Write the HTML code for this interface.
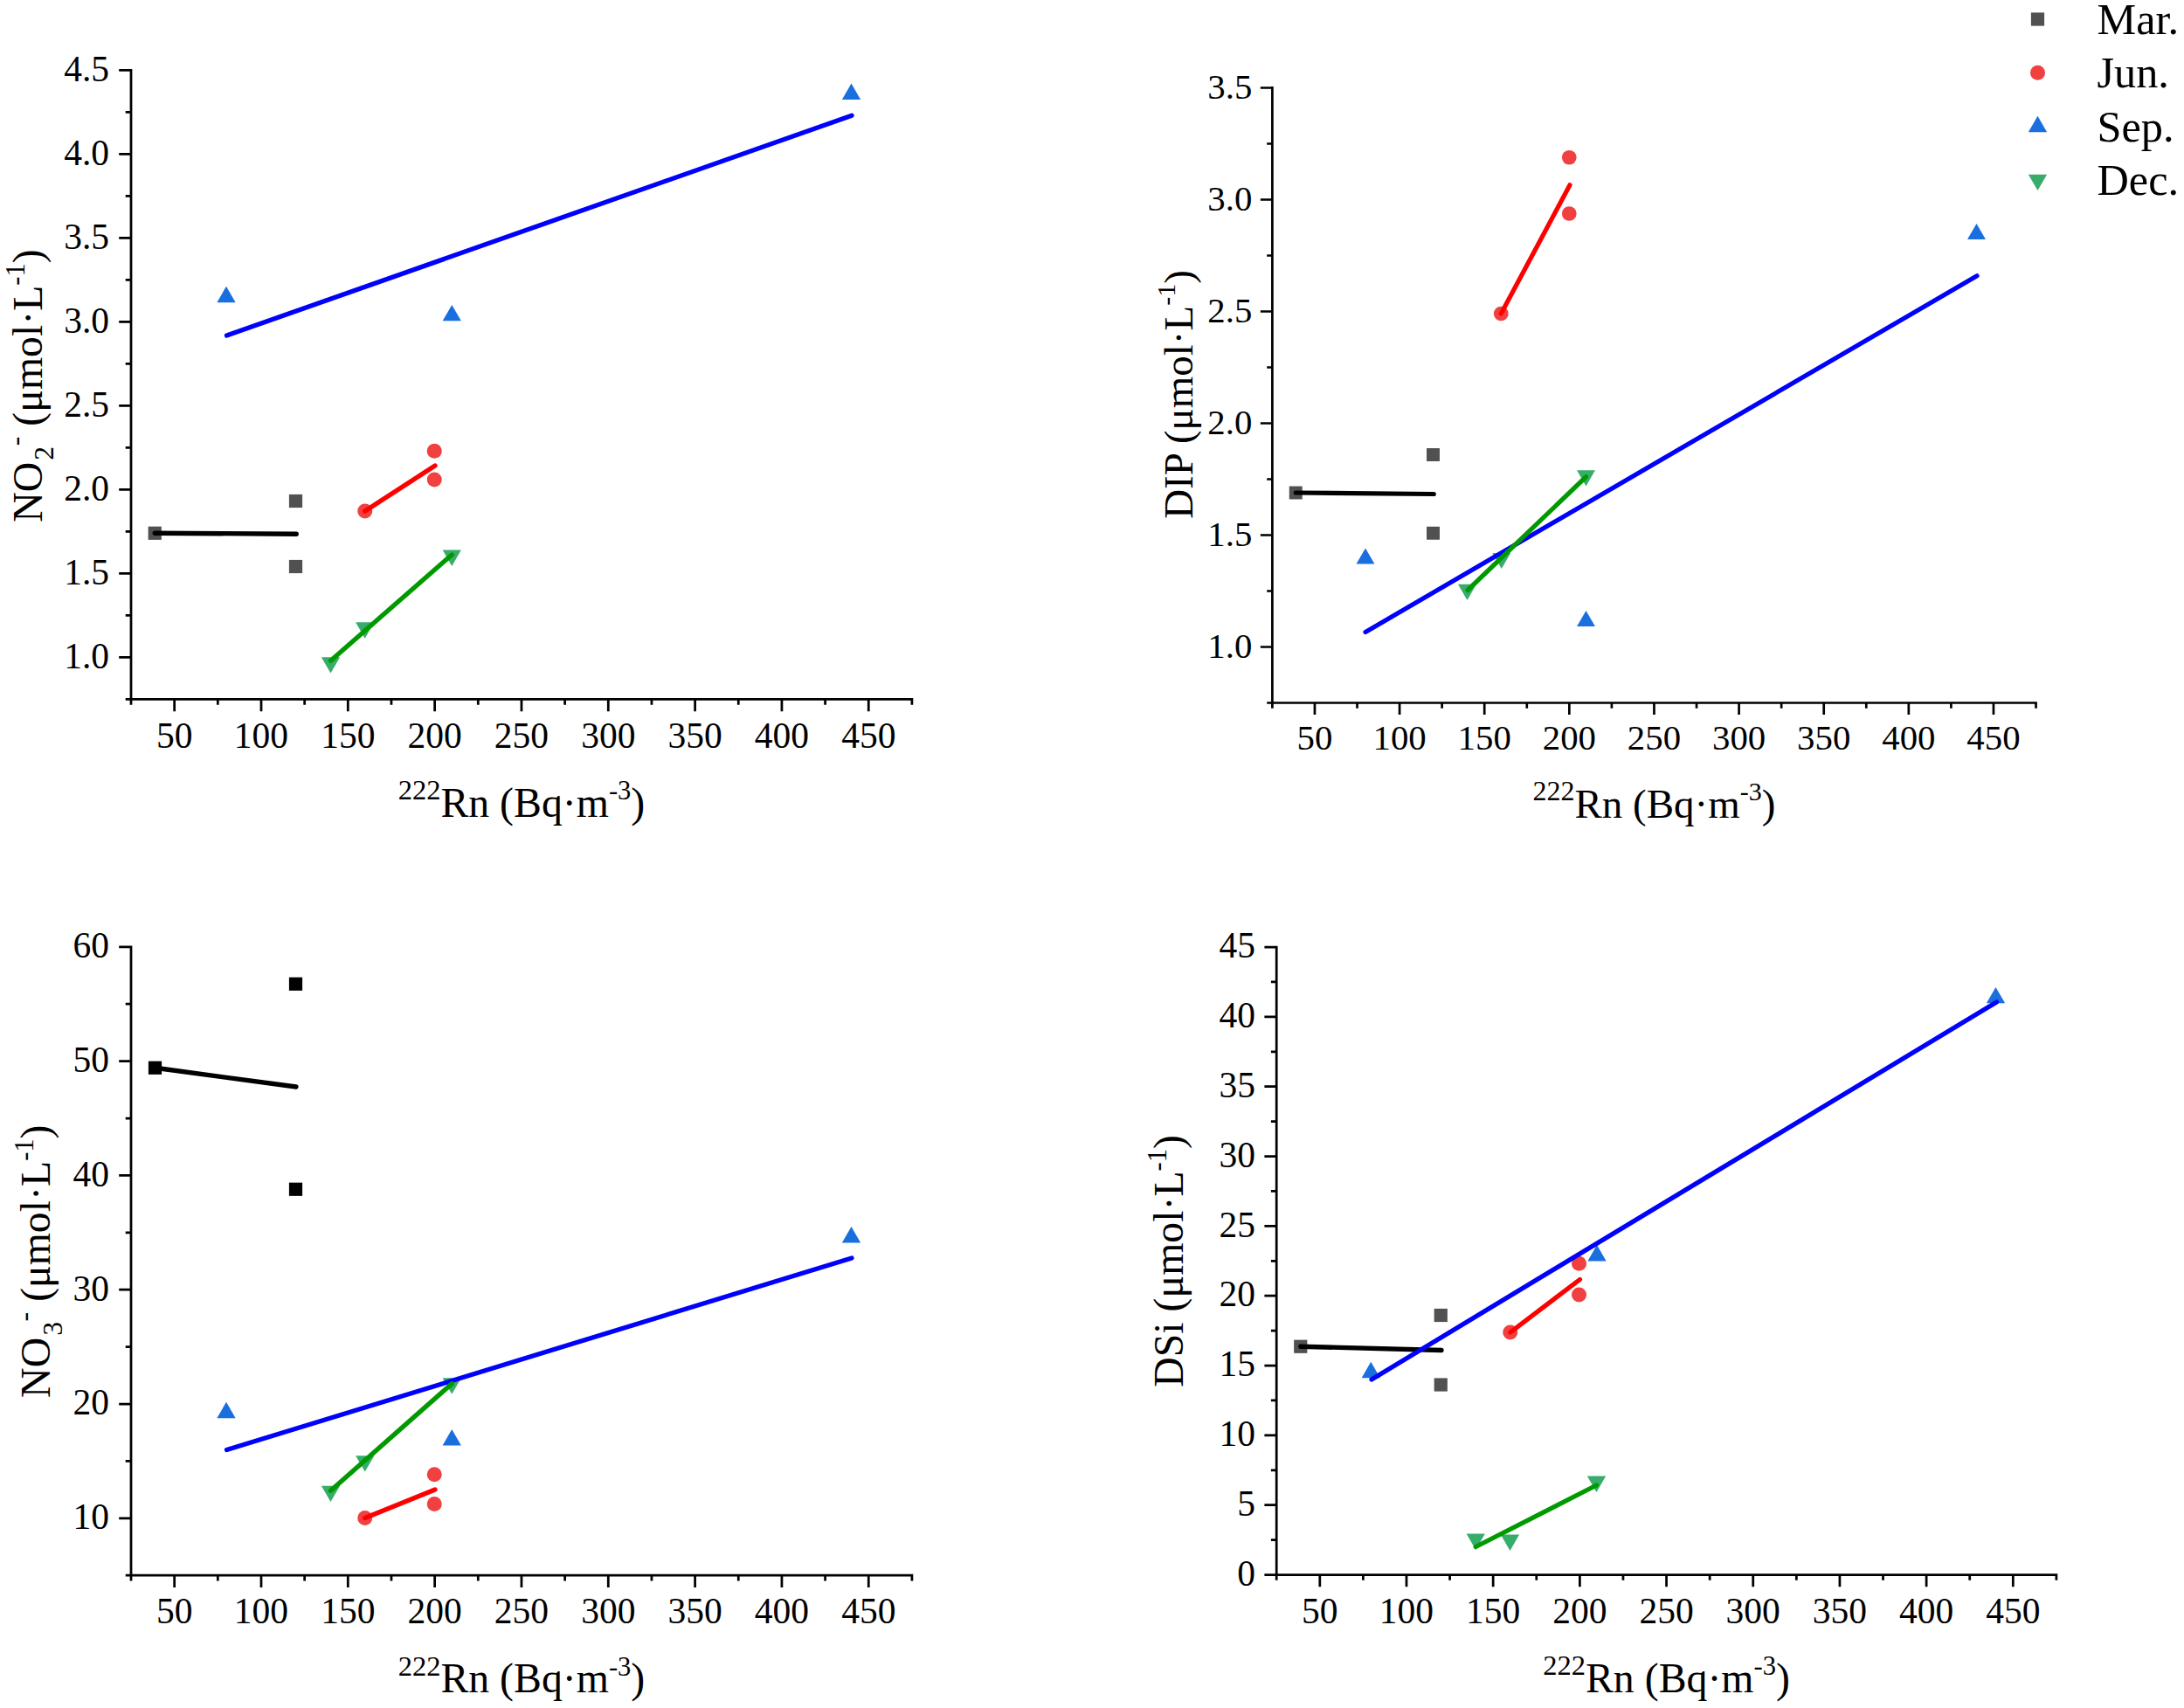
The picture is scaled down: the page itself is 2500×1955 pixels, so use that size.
<!DOCTYPE html>
<html lang="en"><head><meta charset="utf-8"><title>Nutrients vs 222Rn</title>
<style>html,body{margin:0;padding:0;background:#fff}svg{display:block}text{font-family:"Liberation Serif", "Times New Roman", serif;fill:#000}</style>
</head><body>
<svg width="2500" height="1955" viewBox="0 0 2500 1955">
<rect width="2500" height="1955" fill="#fff"/>
<path d="M150 79.03 V801.77 M148.62 800.4 H1045.29 M199.66 800.4 v13.8 M298.99 800.4 v13.8 M398.31 800.4 v13.8 M497.63 800.4 v13.8 M596.96 800.4 v13.8 M696.28 800.4 v13.8 M795.6 800.4 v13.8 M894.93 800.4 v13.8 M994.25 800.4 v13.8 M150 800.4 v6.3 M249.32 800.4 v6.3 M348.65 800.4 v6.3 M447.97 800.4 v6.3 M547.29 800.4 v6.3 M646.62 800.4 v6.3 M745.94 800.4 v6.3 M845.26 800.4 v6.3 M944.59 800.4 v6.3 M1043.91 800.4 v6.3 M150 752.4 h-13.8 M150 656.4 h-13.8 M150 560.4 h-13.8 M150 464.4 h-13.8 M150 368.4 h-13.8 M150 272.4 h-13.8 M150 176.4 h-13.8 M150 80.4 h-13.8 M150 800.4 h-6.3 M150 704.4 h-6.3 M150 608.4 h-6.3 M150 512.4 h-6.3 M150 416.4 h-6.3 M150 320.4 h-6.3 M150 224.4 h-6.3 M150 128.4 h-6.3" fill="none" stroke="#000" stroke-width="2.75"/>
<g font-size="41.5" text-anchor="middle">
<text x="199.66" y="855.5">50</text>
<text x="298.99" y="855.5">100</text>
<text x="398.31" y="855.5">150</text>
<text x="497.63" y="855.5">200</text>
<text x="596.96" y="855.5">250</text>
<text x="696.28" y="855.5">300</text>
<text x="795.6" y="855.5">350</text>
<text x="894.93" y="855.5">400</text>
<text x="994.25" y="855.5">450</text>
</g>
<g font-size="41.5" text-anchor="end">
<text x="125" y="764.8">1.0</text>
<text x="125" y="668.8">1.5</text>
<text x="125" y="572.8">2.0</text>
<text x="125" y="476.8">2.5</text>
<text x="125" y="380.8">3.0</text>
<text x="125" y="284.8">3.5</text>
<text x="125" y="188.8">4.0</text>
<text x="125" y="92.8">4.5</text>
</g>
<text x="596.96" y="934.5" font-size="47.8" text-anchor="middle"><tspan font-size="32.5" dy="-19.8">222</tspan><tspan dy="19.8">Rn (Bq·m</tspan><tspan font-size="30.5" dy="-19.8">-3</tspan><tspan dy="19.8">)</tspan></text>
<text transform="translate(48 441.5) rotate(-90)" font-size="47.8" text-anchor="middle"><tspan>NO</tspan><tspan font-size="31.72" dx="2" dy="13.4">2</tspan><tspan font-size="31.72" dx="0.6" dy="-33.2">-</tspan><tspan dy="19.8"> (μmol·L</tspan><tspan font-size="30.5" dy="-19.8">-1</tspan><tspan dy="19.8">)</tspan></text>
<rect x="169.65" y="602.65" width="15.2" height="15.2" fill="#515151"/>
<rect x="330.9" y="565.9" width="15.2" height="15.2" fill="#515151"/>
<rect x="330.9" y="640.9" width="15.2" height="15.2" fill="#515151"/>
<circle cx="417.75" cy="585" r="8.5" fill="#F14040"/>
<circle cx="497.25" cy="516.25" r="8.5" fill="#F14040"/>
<circle cx="497.25" cy="549" r="8.5" fill="#F14040"/>
<polygon points="259,327.7 269.65,346.15 248.35,346.15" fill="#1A6FDF"/>
<polygon points="517.25,348.9 527.9,367.35 506.6,367.35" fill="#1A6FDF"/>
<polygon points="974.5,95.5 985.15,113.95 963.85,113.95" fill="#1A6FDF"/>
<polygon points="378.5,770.6 389.15,752.15 367.85,752.15" fill="#37AD6B"/>
<polygon points="417.75,730.8 428.4,712.35 407.1,712.35" fill="#37AD6B"/>
<polygon points="517.25,647.9 527.9,629.45 506.6,629.45" fill="#37AD6B"/>
<line x1="177.25" y1="610.25" x2="339.25" y2="611.25" stroke="#000000" stroke-width="5.3" stroke-linecap="round"/>
<line x1="417.75" y1="585" x2="498" y2="533" stroke="#FF0000" stroke-width="5.3" stroke-linecap="round"/>
<line x1="259.5" y1="384" x2="975" y2="132.25" stroke="#0000FF" stroke-width="5.3" stroke-linecap="round"/>
<line x1="378.5" y1="756.25" x2="517.25" y2="635" stroke="#009900" stroke-width="5.3" stroke-linecap="round"/>
<path d="M1456.4 99.12 V805.88 M1455.03 804.5 H2331.9 M1504.96 804.5 v13.57 M1602.09 804.5 v13.57 M1699.21 804.5 v13.57 M1796.34 804.5 v13.57 M1893.46 804.5 v13.57 M1990.59 804.5 v13.57 M2087.71 804.5 v13.57 M2184.84 804.5 v13.57 M2281.96 804.5 v13.57 M1456.4 804.5 v6.19 M1553.53 804.5 v6.19 M1650.65 804.5 v6.19 M1747.78 804.5 v6.19 M1844.9 804.5 v6.19 M1942.03 804.5 v6.19 M2039.15 804.5 v6.19 M2136.28 804.5 v6.19 M2233.4 804.5 v6.19 M2330.53 804.5 v6.19 M1456.4 740.5 h-13.57 M1456.4 612.5 h-13.57 M1456.4 484.5 h-13.57 M1456.4 356.5 h-13.57 M1456.4 228.5 h-13.57 M1456.4 100.5 h-13.57 M1456.4 804.5 h-6.19 M1456.4 676.5 h-6.19 M1456.4 548.5 h-6.19 M1456.4 420.5 h-6.19 M1456.4 292.5 h-6.19 M1456.4 164.5 h-6.19" fill="none" stroke="#000" stroke-width="2.7"/>
<g font-size="40.79" text-anchor="middle">
<text x="1504.96" y="858.4">50</text>
<text x="1602.09" y="858.4">100</text>
<text x="1699.21" y="858.4">150</text>
<text x="1796.34" y="858.4">200</text>
<text x="1893.46" y="858.4">250</text>
<text x="1990.59" y="858.4">300</text>
<text x="2087.71" y="858.4">350</text>
<text x="2184.84" y="858.4">400</text>
<text x="2281.96" y="858.4">450</text>
</g>
<g font-size="40.79" text-anchor="end">
<text x="1433.3" y="752.6">1.0</text>
<text x="1433.3" y="624.6">1.5</text>
<text x="1433.3" y="496.6">2.0</text>
<text x="1433.3" y="368.6">2.5</text>
<text x="1433.3" y="240.6">3.0</text>
<text x="1433.3" y="112.6">3.5</text>
</g>
<text x="1893.46" y="935.5" font-size="46.99" text-anchor="middle"><tspan font-size="31.95" dy="-19.46">222</tspan><tspan dy="19.46">Rn (Bq·m</tspan><tspan font-size="29.98" dy="-19.46">-3</tspan><tspan dy="19.46">)</tspan></text>
<text transform="translate(1364.9 451.5) rotate(-90)" font-size="46.99" text-anchor="middle"><tspan>DIP</tspan><tspan> (μmol·L</tspan><tspan font-size="29.98" dy="-19.46">-1</tspan><tspan dy="19.46">)</tspan></text>
<rect x="1475.78" y="556.53" width="14.94" height="14.94" fill="#515151"/>
<rect x="1633.03" y="513.03" width="14.94" height="14.94" fill="#515151"/>
<rect x="1633.03" y="602.78" width="14.94" height="14.94" fill="#515151"/>
<circle cx="1796.25" cy="180.25" r="8.36" fill="#F14040"/>
<circle cx="1796.25" cy="244.5" r="8.36" fill="#F14040"/>
<circle cx="1718.25" cy="359" r="8.36" fill="#F14040"/>
<polygon points="1563,627.41 1573.47,645.54 1552.53,645.54" fill="#1A6FDF"/>
<polygon points="1815.5,698.91 1825.97,717.04 1805.03,717.04" fill="#1A6FDF"/>
<polygon points="2262.5,255.91 2272.97,274.04 2252.03,274.04" fill="#1A6FDF"/>
<polygon points="1679.5,686.99 1689.97,668.86 1669.03,668.86" fill="#37AD6B"/>
<polygon points="1718.75,651.09 1729.22,632.96 1708.28,632.96" fill="#37AD6B"/>
<polygon points="1815.5,556.49 1825.97,538.36 1805.03,538.36" fill="#37AD6B"/>
<line x1="1483.25" y1="564" x2="1641.25" y2="565.5" stroke="#000000" stroke-width="5.21" stroke-linecap="round"/>
<line x1="1718.25" y1="359" x2="1797" y2="211.75" stroke="#FF0000" stroke-width="5.21" stroke-linecap="round"/>
<line x1="1563" y1="723.5" x2="2263" y2="315.75" stroke="#0000FF" stroke-width="5.21" stroke-linecap="round"/>
<line x1="1680" y1="675.5" x2="1815.5" y2="545.75" stroke="#009900" stroke-width="5.21" stroke-linecap="round"/>
<path d="M150 1082.42 V1804.57 M148.62 1803.2 H1045.29 M199.66 1803.2 v13.8 M298.99 1803.2 v13.8 M398.31 1803.2 v13.8 M497.63 1803.2 v13.8 M596.96 1803.2 v13.8 M696.28 1803.2 v13.8 M795.6 1803.2 v13.8 M894.93 1803.2 v13.8 M994.25 1803.2 v13.8 M150 1803.2 v6.3 M249.32 1803.2 v6.3 M348.65 1803.2 v6.3 M447.97 1803.2 v6.3 M547.29 1803.2 v6.3 M646.62 1803.2 v6.3 M745.94 1803.2 v6.3 M845.26 1803.2 v6.3 M944.59 1803.2 v6.3 M1043.91 1803.2 v6.3 M150 1737.8 h-13.8 M150 1607 h-13.8 M150 1476.2 h-13.8 M150 1345.4 h-13.8 M150 1214.6 h-13.8 M150 1083.8 h-13.8 M150 1803.2 h-6.3 M150 1672.4 h-6.3 M150 1541.6 h-6.3 M150 1410.8 h-6.3 M150 1280 h-6.3 M150 1149.2 h-6.3" fill="none" stroke="#000" stroke-width="2.75"/>
<g font-size="41.5" text-anchor="middle">
<text x="199.66" y="1858.3">50</text>
<text x="298.99" y="1858.3">100</text>
<text x="398.31" y="1858.3">150</text>
<text x="497.63" y="1858.3">200</text>
<text x="596.96" y="1858.3">250</text>
<text x="696.28" y="1858.3">300</text>
<text x="795.6" y="1858.3">350</text>
<text x="894.93" y="1858.3">400</text>
<text x="994.25" y="1858.3">450</text>
</g>
<g font-size="41.5" text-anchor="end">
<text x="125" y="1750.2">10</text>
<text x="125" y="1619.4">20</text>
<text x="125" y="1488.6">30</text>
<text x="125" y="1357.8">40</text>
<text x="125" y="1227">50</text>
<text x="125" y="1096.2">60</text>
</g>
<text x="596.96" y="1937.3" font-size="47.8" text-anchor="middle"><tspan font-size="32.5" dy="-19.8">222</tspan><tspan dy="19.8">Rn (Bq·m</tspan><tspan font-size="30.5" dy="-19.8">-3</tspan><tspan dy="19.8">)</tspan></text>
<text transform="translate(57.4 1443.7) rotate(-90)" font-size="47.8" text-anchor="middle"><tspan>NO</tspan><tspan font-size="31.72" dx="2" dy="13.4">3</tspan><tspan font-size="31.72" dx="0.6" dy="-33.2">-</tspan><tspan dy="19.8"> (μmol·L</tspan><tspan font-size="30.5" dy="-19.8">-1</tspan><tspan dy="19.8">)</tspan></text>
<rect x="169.9" y="1214.65" width="15.2" height="15.2" fill="#000"/>
<rect x="330.9" y="1118.65" width="15.2" height="15.2" fill="#000"/>
<rect x="330.9" y="1353.65" width="15.2" height="15.2" fill="#000"/>
<circle cx="417.75" cy="1737.5" r="8.5" fill="#F14040"/>
<circle cx="497.25" cy="1687.75" r="8.5" fill="#F14040"/>
<circle cx="497.25" cy="1721.5" r="8.5" fill="#F14040"/>
<polygon points="259,1604.7 269.65,1623.15 248.35,1623.15" fill="#1A6FDF"/>
<polygon points="517.25,1636 527.9,1654.45 506.6,1654.45" fill="#1A6FDF"/>
<polygon points="974.5,1404 985.15,1422.45 963.85,1422.45" fill="#1A6FDF"/>
<polygon points="378.5,1719.1 389.15,1700.65 367.85,1700.65" fill="#37AD6B"/>
<polygon points="417.75,1684.6 428.4,1666.15 407.1,1666.15" fill="#37AD6B"/>
<polygon points="517.25,1595.8 527.9,1577.35 506.6,1577.35" fill="#37AD6B"/>
<line x1="177.5" y1="1222.25" x2="339" y2="1244" stroke="#000000" stroke-width="5.3" stroke-linecap="round"/>
<line x1="417.75" y1="1737.5" x2="498" y2="1705" stroke="#FF0000" stroke-width="5.3" stroke-linecap="round"/>
<line x1="259.5" y1="1659.5" x2="975" y2="1440" stroke="#0000FF" stroke-width="5.3" stroke-linecap="round"/>
<line x1="378.5" y1="1706.25" x2="517.25" y2="1583.75" stroke="#009900" stroke-width="5.3" stroke-linecap="round"/>
<path d="M1461.2 1082.7 V1803.88 M1459.83 1802.5 H2355.28 M1510.8 1802.5 v13.8 M1609.99 1802.5 v13.8 M1709.17 1802.5 v13.8 M1808.37 1802.5 v13.8 M1907.56 1802.5 v13.8 M2006.74 1802.5 v13.8 M2105.93 1802.5 v13.8 M2205.12 1802.5 v13.8 M2304.32 1802.5 v13.8 M1461.2 1802.5 v6.3 M1560.39 1802.5 v6.3 M1659.58 1802.5 v6.3 M1758.77 1802.5 v6.3 M1857.96 1802.5 v6.3 M1957.15 1802.5 v6.3 M2056.34 1802.5 v6.3 M2155.53 1802.5 v6.3 M2254.72 1802.5 v6.3 M2353.91 1802.5 v6.3 M1461.2 1802.5 h-13.8 M1461.2 1722.67 h-13.8 M1461.2 1642.85 h-13.8 M1461.2 1563.03 h-13.8 M1461.2 1483.2 h-13.8 M1461.2 1403.38 h-13.8 M1461.2 1323.55 h-13.8 M1461.2 1243.72 h-13.8 M1461.2 1163.9 h-13.8 M1461.2 1084.08 h-13.8 M1461.2 1762.59 h-6.3 M1461.2 1682.76 h-6.3 M1461.2 1602.94 h-6.3 M1461.2 1523.11 h-6.3 M1461.2 1443.29 h-6.3 M1461.2 1363.46 h-6.3 M1461.2 1283.64 h-6.3 M1461.2 1203.81 h-6.3 M1461.2 1123.99 h-6.3" fill="none" stroke="#000" stroke-width="2.75"/>
<g font-size="41.5" text-anchor="middle">
<text x="1510.8" y="1857.9">50</text>
<text x="1609.99" y="1857.9">100</text>
<text x="1709.17" y="1857.9">150</text>
<text x="1808.37" y="1857.9">200</text>
<text x="1907.56" y="1857.9">250</text>
<text x="2006.74" y="1857.9">300</text>
<text x="2105.93" y="1857.9">350</text>
<text x="2205.12" y="1857.9">400</text>
<text x="2304.32" y="1857.9">450</text>
</g>
<g font-size="41.5" text-anchor="end">
<text x="1437" y="1814.7">0</text>
<text x="1437" y="1734.88">5</text>
<text x="1437" y="1655.05">10</text>
<text x="1437" y="1575.23">15</text>
<text x="1437" y="1495.4">20</text>
<text x="1437" y="1415.58">25</text>
<text x="1437" y="1335.75">30</text>
<text x="1437" y="1255.92">35</text>
<text x="1437" y="1176.1">40</text>
<text x="1437" y="1096.28">45</text>
</g>
<text x="1907.55" y="1936.6" font-size="47.8" text-anchor="middle"><tspan font-size="32.5" dy="-19.8">222</tspan><tspan dy="19.8">Rn (Bq·m</tspan><tspan font-size="30.5" dy="-19.8">-3</tspan><tspan dy="19.8">)</tspan></text>
<text transform="translate(1354.3 1443.4) rotate(-90)" font-size="47.8" text-anchor="middle"><tspan>DSi</tspan><tspan> (μmol·L</tspan><tspan font-size="30.5" dy="-19.8">-1</tspan><tspan dy="19.8">)</tspan></text>
<rect x="1481.15" y="1533.65" width="15.2" height="15.2" fill="#515151"/>
<rect x="1641.65" y="1497.9" width="15.2" height="15.2" fill="#515151"/>
<rect x="1641.65" y="1577.4" width="15.2" height="15.2" fill="#515151"/>
<circle cx="1728.75" cy="1525" r="8.5" fill="#F14040"/>
<circle cx="1807.5" cy="1446.25" r="8.5" fill="#F14040"/>
<circle cx="1807.5" cy="1482" r="8.5" fill="#F14040"/>
<polygon points="1569.25,1558.7 1579.9,1577.15 1558.6,1577.15" fill="#1A6FDF"/>
<polygon points="1828,1425.1 1838.65,1443.55 1817.35,1443.55" fill="#1A6FDF"/>
<polygon points="2284.5,1129.9 2295.15,1148.35 2273.85,1148.35" fill="#1A6FDF"/>
<polygon points="1689.25,1773.9 1699.9,1755.45 1678.6,1755.45" fill="#37AD6B"/>
<polygon points="1728.5,1775 1739.15,1756.55 1717.85,1756.55" fill="#37AD6B"/>
<polygon points="1827.5,1707.9 1838.15,1689.45 1816.85,1689.45" fill="#37AD6B"/>
<line x1="1488.75" y1="1541.25" x2="1650" y2="1545.5" stroke="#000000" stroke-width="5.3" stroke-linecap="round"/>
<line x1="1728.75" y1="1525" x2="1808.5" y2="1464.5" stroke="#FF0000" stroke-width="5.3" stroke-linecap="round"/>
<line x1="1570" y1="1579" x2="2285.5" y2="1147" stroke="#0000FF" stroke-width="5.3" stroke-linecap="round"/>
<line x1="1689.25" y1="1770.5" x2="1827.5" y2="1700" stroke="#009900" stroke-width="5.3" stroke-linecap="round"/>
<rect x="2324.9" y="14.4" width="15.2" height="15.2" fill="#515151"/>
<circle cx="2332.5" cy="83.25" r="8.5" fill="#F14040"/>
<polygon points="2332.5,132.7 2343.15,151.15 2321.85,151.15" fill="#1A6FDF"/>
<polygon points="2332.5,218.1 2343.15,199.65 2321.85,199.65" fill="#37AD6B"/>
<g font-size="50.3">
<text x="2400.5" y="38.7">Mar.</text>
<text x="2400.5" y="99.7">Jun.</text>
<text x="2400.5" y="161.6">Sep.</text>
<text x="2400.5" y="222.6">Dec.</text>
</g>
</svg></body></html>
